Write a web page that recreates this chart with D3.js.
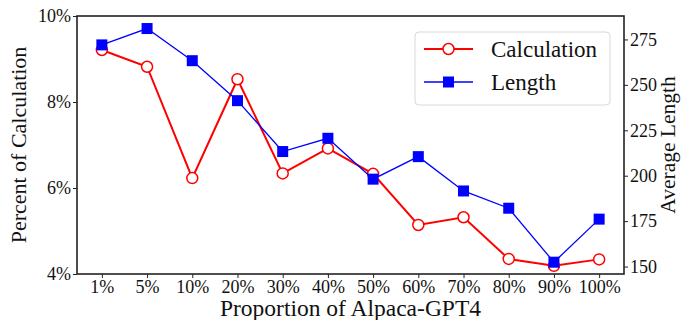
<!DOCTYPE html>
<html>
<head>
<meta charset="utf-8">
<script src="https://cdn.jsdelivr.net/npm/d3@7"></script>
<style>
  body { margin: 0; background: #fff; }
  text { font-family: "Liberation Serif", "DejaVu Serif", serif; fill: #111; }
</style>
</head>
<body>
<svg width="681" height="320"></svg>
<script>
// data
var categories = ["1%", "5%", "10%", "20%", "30%", "40%", "50%", "60%", "70%", "80%", "90%", "100%"];
var calcValues = [9.21, 8.82, 6.23, 8.53, 6.34, 6.92, 6.33, 5.14, 5.32, 4.35, 4.19, 4.34];
var lengthValues = [272, 281, 263.3, 241.3, 213.3, 220.6, 198.1, 210.5, 191.6, 182.1, 152.4, 176.1];
var leftTicks = [4, 6, 8, 10];
var rightTicks = [150, 175, 200, 225, 250, 275];

var svg = d3.select("svg");
var mLeft = 77, mRight = 624, mTop = 16, mBottom = 274;

var x = d3.scaleLinear().domain([-0.55, categories.length - 1 + 0.55]).range([mLeft, mRight]);
var yL = d3.scaleLinear().domain([4, 10]).range([mBottom, mTop]);
var yR = d3.scaleLinear().domain([145.9, 287.9]).range([mBottom, mTop]);

// axes
var xAxis = d3.axisBottom(x).tickValues(d3.range(categories.length))
  .tickFormat(function(i) { return categories[i]; }).tickSize(4).tickPadding(2);
var gx = svg.append("g").attr("transform", "translate(0," + mBottom + ")").call(xAxis);

var gl = svg.append("g").attr("transform", "translate(" + mLeft + ",0)")
  .call(d3.axisLeft(yL).tickValues(leftTicks).tickFormat(function(d) { return d + "%"; }).tickSize(4).tickPadding(2));

var gr = svg.append("g").attr("transform", "translate(" + mRight + ",0)")
  .call(d3.axisRight(yR).tickValues(rightTicks).tickSize(4).tickPadding(2));

[gx, gl, gr].forEach(function(g) {
  g.select(".domain").remove();
  g.selectAll(".tick line").attr("stroke", "#222").attr("stroke-width", 1);
  g.selectAll(".tick text").style("font-size", "18px").attr("fill", "#111");
});

// frame
svg.append("rect").attr("x", mLeft).attr("y", mTop)
  .attr("width", mRight - mLeft).attr("height", mBottom - mTop)
  .attr("fill", "none").attr("stroke", "#222").attr("stroke-width", 1.6);

// axis titles
svg.append("text").attr("x", (mLeft + mRight) / 2).attr("y", 315.5)
  .attr("text-anchor", "middle").style("font-size", "23.5px").text("Proportion of Alpaca-GPT4");
svg.append("text").attr("transform", "translate(26," + ((mTop + mBottom) / 2) + ") rotate(-90)")
  .attr("text-anchor", "middle").style("font-size", "22px").text("Percent of Calculation");
svg.append("text").attr("transform", "translate(675," + ((mTop + mBottom) / 2) + ") rotate(-90)")
  .attr("text-anchor", "middle").style("font-size", "21.5px").text("Average Length");

// calculation series
var lineL = d3.line().x(function(d, i) { return x(i); }).y(function(d) { return yL(d); });
svg.append("path").datum(calcValues).attr("d", lineL)
  .attr("fill", "none").attr("stroke", "#ff0000").attr("stroke-width", 2);
svg.selectAll("circle.calc").data(calcValues).enter().append("circle")
  .attr("class", "calc")
  .attr("cx", function(d, i) { return x(i); }).attr("cy", function(d) { return yL(d); })
  .attr("r", 5.5).attr("fill", "#fff").attr("stroke", "#ff0000").attr("stroke-width", 1.5);

// length series
var lineR = d3.line().x(function(d, i) { return x(i); }).y(function(d) { return yR(d); });
svg.append("path").datum(lengthValues).attr("d", lineR)
  .attr("fill", "none").attr("stroke", "#0000ff").attr("stroke-width", 1.3);
svg.selectAll("rect.len").data(lengthValues).enter().append("rect")
  .attr("class", "len")
  .attr("x", function(d, i) { return x(i) - 5.5; }).attr("y", function(d) { return yR(d) - 5.5; })
  .attr("width", 11).attr("height", 11).attr("fill", "#0000ff");

// legend
var lg = svg.append("g");
lg.append("rect").attr("x", 415).attr("y", 32).attr("width", 195).attr("height", 73)
  .attr("rx", 4).attr("fill", "#fff").attr("fill-opacity", 0.85)
  .attr("stroke", "#d8d8d8").attr("stroke-width", 1);
lg.append("line").attr("x1", 424).attr("x2", 473).attr("y1", 49).attr("y2", 49)
  .attr("stroke", "#ff0000").attr("stroke-width", 2);
lg.append("circle").attr("cx", 448.5).attr("cy", 49).attr("r", 5.5)
  .attr("fill", "#fff").attr("stroke", "#ff0000").attr("stroke-width", 1.5);
lg.append("line").attr("x1", 424).attr("x2", 473).attr("y1", 82).attr("y2", 82)
  .attr("stroke", "#0000ff").attr("stroke-width", 1.3);
lg.append("rect").attr("x", 443).attr("y", 76.5).attr("width", 11).attr("height", 11).attr("fill", "#0000ff");
lg.append("text").attr("x", 491).attr("y", 57).style("font-size", "23px").text("Calculation");
lg.append("text").attr("x", 491).attr("y", 90).style("font-size", "23px").text("Length");
</script>
</body>
</html>
